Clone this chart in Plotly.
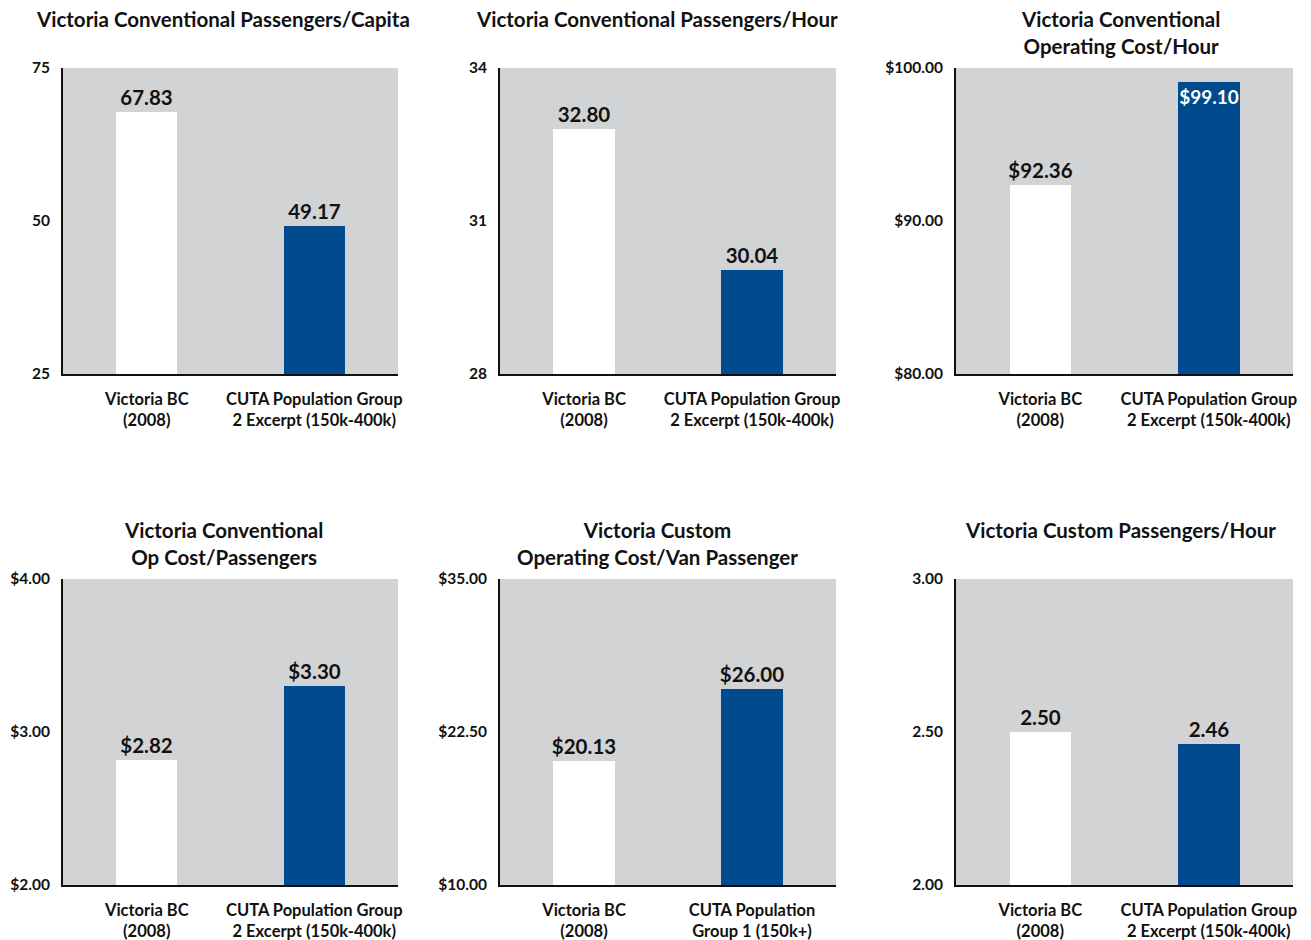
import plotly.graph_objects as go

titles = [
    "Victoria Conventional Passengers/Capita",
    "Victoria Conventional Passengers/Hour",
    "Victoria Conventional<br>Operating Cost/Hour",
    "Victoria Conventional<br>Op Cost/Passengers",
    "Victoria Custom<br>Operating Cost/Van Passenger",
    "Victoria Custom Passengers/Hour",
]
cats_a = ["Victoria BC<br>(2008)", "CUTA Population Group<br>2 Excerpt (150k-400k)"]
cats_b = ["Victoria BC<br>(2008)", "CUTA Population<br>Group 1 (150k+)"]
categories = [cats_a, cats_a, cats_a, cats_a, cats_b, cats_a]

victoria_vals = [67.83, 32.80, 92.36, 2.82, 20.13, 2.50]
cuta_vals = [49.17, 30.04, 99.10, 3.30, 26.00, 2.46]
label_fmt = ["{:.2f}", "{:.2f}", "${:.2f}", "${:.2f}", "${:.2f}", "{:.2f}"]
y_ranges = [(25, 75), (28, 34), (80, 100), (2, 4), (10, 35), (2, 3)]
tick_fmt = ["{:g}", "{:g}", "${:.2f}", "${:.2f}", "${:.2f}", "{:.2f}"]

FONT = "Lato"
WHITE = "#FFFFFF"
BLUE = "#004B8D"
GREY = "#D1D3D5"

W, H = 1311, 940
x_doms = [(63, 398), (500, 836), (956, 1293)]
y_doms = [(68, 374), (579, 885)]
title_cx = [223, 657, 1120]
title_top = [5, 516]

fig = go.Figure()
for i in range(6):
    r, c = divmod(i, 3)
    n = i + 1
    xa = "x" if n == 1 else f"x{n}"
    ya = "y" if n == 1 else f"y{n}"
    vals = [victoria_vals[i], cuta_vals[i]]
    texts = [label_fmt[i].format(v) for v in vals]
    lo, hi = y_ranges[i]
    inside = [(hi - v) / (hi - lo) < 0.1 for v in vals]
    fig.add_trace(go.Bar(
        x=[0, 1], y=vals, width=0.365,
        marker=dict(color=[WHITE, BLUE], line=dict(width=0)),
        text=texts,
        textposition=["inside" if f else "outside" for f in inside],
        insidetextanchor="end",
        textangle=0,
        constraintext="none",
        textfont=dict(family=FONT,
                      size=[19 if f else 20.5 for f in inside],
                      color=["#FFFFFF" if f else "#111111" for f in inside],
                      weight="bold"),
        cliponaxis=False,
        xaxis=xa, yaxis=ya, showlegend=False, hoverinfo="skip",
    ))
    x0, x1 = x_doms[c]
    y0, y1 = y_doms[r]
    mid = (lo + hi) / 2
    tickvals = [lo, mid, hi]
    fig.layout[("xaxis" if n == 1 else f"xaxis{n}")] = dict(
        domain=[x0 / W, x1 / W], anchor=ya, range=[-0.5, 1.5],
        tickvals=[0, 1], ticktext=categories[i],
        showline=True, linecolor="#111111", linewidth=2,
        ticks="outside", ticklen=9, tickcolor="rgba(0,0,0,0)",
        showgrid=False, zeroline=False, fixedrange=True, automargin=False,
        tickfont=dict(family=FONT, size=16.5, color="#111111", weight="bold"),
    )
    fig.layout[("yaxis" if n == 1 else f"yaxis{n}")] = dict(
        domain=[1 - y1 / H, 1 - y0 / H], anchor=xa, range=[lo, hi],
        tickvals=tickvals, ticktext=[tick_fmt[i].format(t) for t in tickvals],
        showline=True, linecolor="#111111", linewidth=2,
        ticks="outside", ticklen=8, tickcolor="rgba(0,0,0,0)",
        showgrid=False, zeroline=False, fixedrange=True, automargin=False,
        tickfont=dict(family=FONT, size=15.5, color="#111111", weight="bold"),
    )
    fig.add_annotation(
        text=titles[i], xref="paper", yref="paper",
        x=title_cx[c] / W, y=1 - title_top[r] / H,
        xanchor="center", yanchor="top", showarrow=False,
        font=dict(family=FONT, size=20.5, color="#111111", weight="bold"),
        align="center",
    )

fig.update_layout(
    width=W, height=H, margin=dict(l=0, r=0, t=0, b=0, autoexpand=False),
    paper_bgcolor="white", plot_bgcolor=GREY,
    bargap=0,
)
fig.write_html("out.html")
